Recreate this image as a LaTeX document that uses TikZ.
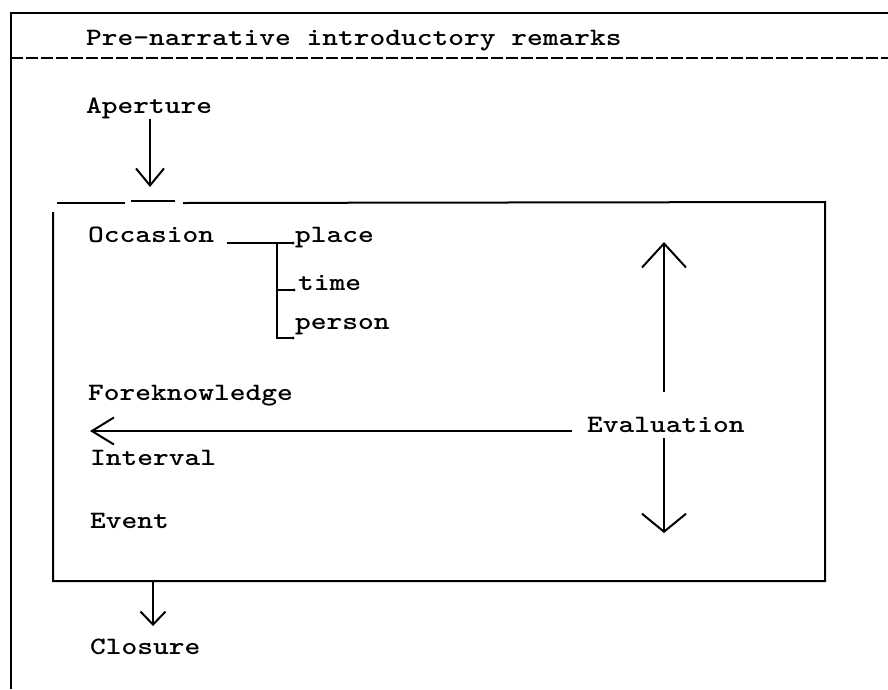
\documentclass[tikz,border=0pt]{standalone}
\usepackage{graphicx}
\usetikzlibrary{arrows.meta}
% typewriter text, slightly widened to a pica pitch
\newcommand{\tw}[1]{\scalebox{1.2}[1]{#1}}
\begin{document}
\begin{tikzpicture}[x=1pt,y=-1pt,
  txt/.style={anchor=base west,inner sep=0pt,font=\fontsize{25}{30}\selectfont\ttfamily\bfseries},
  rule/.style={line width=2pt},
  link/.style={line width=1.5pt},
  barb/.style 2 args={-{Straight Barb[length=#1,width=#2,line width=2pt]}}]
\useasboundingbox (0,0) rectangle (888,689);

% outer frame: top rule, left rule and dashed divider
\coordinate (oTL) at (11,13);
\coordinate (oTR) at (888,13);
\coordinate (oBL) at (11,689);
\draw[rule] (oTR) -- (oTL) -- (oBL);
\coordinate (dL) at (11,58);
\coordinate (dR) at (888,58);
\draw[rule,dash pattern=on 12pt off 3pt] (dL) -- (dR);

\node[txt] (pre) at (86,45) {\tw{Pre-narrative introductory remarks}};
\node[txt] (ap)  at (86,113) {\tw{Aperture}};

% inner box
\coordinate (bNW) at (53,203);
\coordinate (bNE) at (825,202);
\coordinate (bSW) at (53,581);
\coordinate (bSE) at (825,581);
\draw[rule] ([xshift=4pt]bNW) -- (125,203);
\draw[line width=1.2pt] (131,201) -- (175,201);
\draw[rule] (183,203) -- (bNE) -- (bSE) -- (bSW) -- ([yshift=-9pt]bNW);

% aperture arrow into the box
\coordinate (apTip) at (150,187);
\draw[link,barb={17pt}{28pt}] (ap.south -| apTip) -- (apTip);

% occasion and its branches
\node[txt] (occ)    at (88,242)  {\tw{Occasion}};
\node[txt] (place)  at (295,242) {\tw{place}};
\node[txt] (time)   at (298,290) {\tw{time}};
\node[txt] (person) at (295,329) {\tw{person}};
\coordinate (fk) at (277,243);
\coordinate (pk) at (277,338);
\draw[link] ([xshift=13pt,yshift=-1pt]occ.base east) -- ([xshift=-2pt,yshift=-1pt]place.base west);
\draw[link] (fk) -- (pk) -- ([xshift=-2pt]person.west |- pk);
\draw[link] (fk |- time.base) -- ([xshift=-4pt]time.base west);
\fill ([xshift=-2pt,yshift=-1pt]place.base west) circle (1.6pt);
\fill ([xshift=-4pt]time.base west) circle (1.6pt);
\fill ([xshift=-2pt]person.west |- pk) circle (1.6pt);

\node[txt] (fore) at (88,400) {\tw{Foreknowledge}};
\node[txt] (intv) at (90,465) {\tw{Interval}};
\node[txt] (evt)  at (90,528) {\tw{Event}};
\node[txt] (eval) at (587,432) {\tw{Evaluation}};

% evaluation arrows
\coordinate (upTip) at (664,242);
\coordinate (dnTip) at (664,533);
\coordinate (lfTip) at (90,431);
\draw[link,barb={24pt}{44pt}] ([yshift=25pt]eval.north -| upTip) -- (upTip);
\draw[link,barb={18pt}{44pt}] ([yshift=-6pt]eval.south -| dnTip) -- (dnTip);
\draw[line width=1.2pt,barb={22pt}{27pt}] ([xshift=-15pt,yshift=1pt]eval.base west) -- (lfTip);

% closure
\node[txt] (clo) at (90,654) {\tw{Closure}};
\coordinate (cTop) at (153,581);
\coordinate (cTip) at (153,626);
\draw[link,barb={13pt}{25pt}] (cTop) -- (cTip);
\end{tikzpicture}
\end{document}
